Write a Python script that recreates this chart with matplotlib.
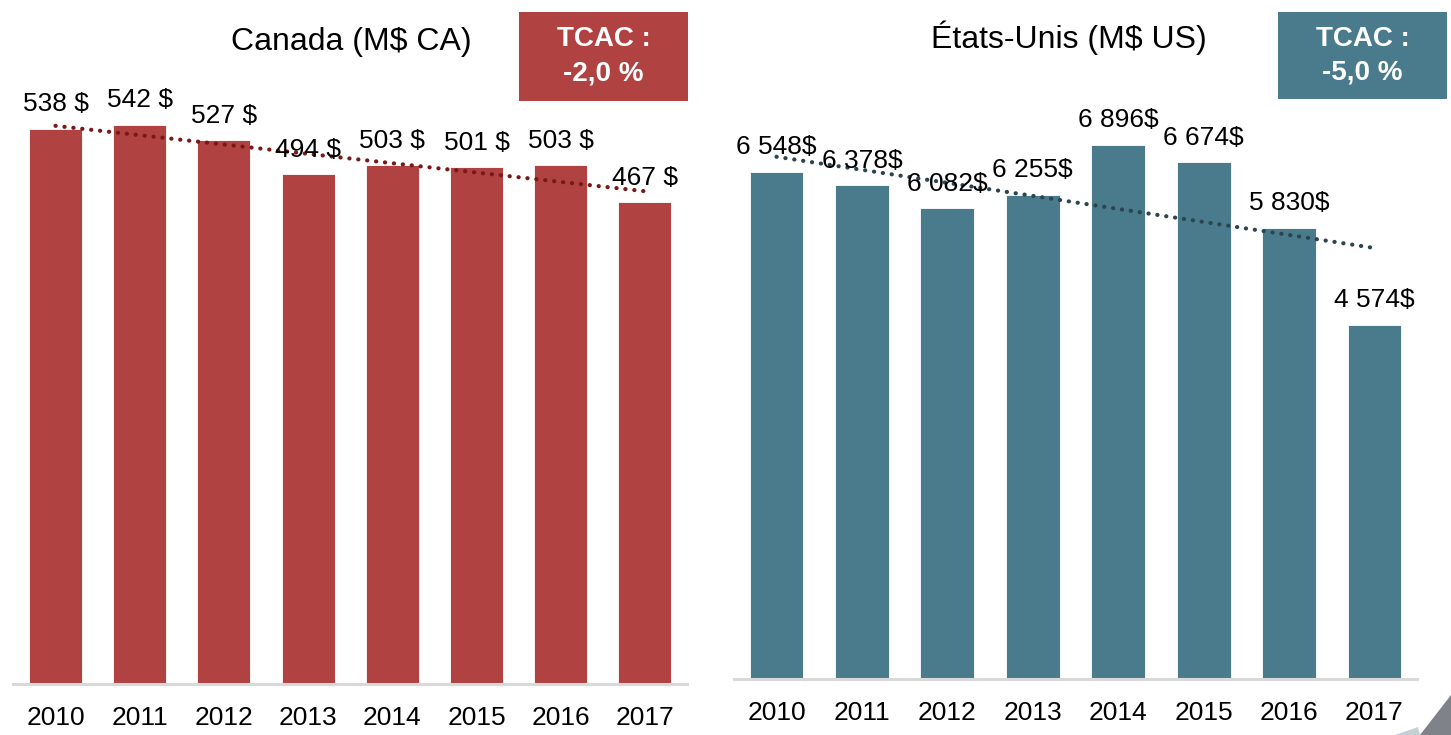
import matplotlib
matplotlib.use("Agg")
import matplotlib.pyplot as plt
import numpy as np
from matplotlib.patches import Rectangle, Polygon

YEARS = ["2010", "2011", "2012", "2013", "2014", "2015", "2016", "2017"]
CANADA = [538, 542, 527, 494, 503, 501, 503, 467]
US = [6548, 6378, 6082, 6255, 6896, 6674, 5830, 4574]
CANADA_LABELS = ["538 $", "542 $", "527 $", "494 $", "503 $", "501 $", "503 $", "467 $"]
US_LABELS = ["6 548$", "6 378$", "6 082$", "6 255$", "6 896$", "6 674$", "5 830$", "4 574$"]
CANADA_TCAC = "TCAC :\n-2,0 %"
US_TCAC = "TCAC :\n-5,0 %"

RED = "#B04242"
TEAL = "#4A7B8D"
RED_TREND = "#7A1818"
TEAL_TREND = "#2B4450"

plt.rcParams["font.family"] = ["Liberation Sans", "DejaVu Sans"]

W, H = 1451, 735
fig = plt.figure(figsize=(W / 100, H / 100), dpi=100)


def px_axes(x0, x1, y_base, height):
    return fig.add_axes([x0 / W, (H - y_base) / H, (x1 - x0) / W, height / H])


def draw_panel(ax, values, labels, color, trend_color, ymax):
    x = np.arange(len(values))
    ax.bar(x, values, width=0.63, color=color, edgecolor="white", linewidth=0.6)
    slope, intercept = np.polyfit(x, values, 1)
    ax.plot(x[[0, -1]], intercept + slope * x[[0, -1]], color=trend_color,
            linewidth=3.0, linestyle=(0, (0.05, 2.1)), dash_capstyle="round")
    for xi, v, lab in zip(x, values, labels):
        ax.annotate(lab, (xi, v), xytext=(0, 9), textcoords="offset points",
                    ha="center", va="bottom", fontsize=19, color="black")
    ax.set_xlim(-0.5, len(values) - 0.5)
    ax.set_ylim(0, ymax)
    ax.set_xticks(x)
    ax.set_xticklabels(YEARS, fontsize=19)
    ax.tick_params(axis="x", length=0, pad=16)
    ax.set_yticks([])
    for side in ["top", "left", "right"]:
        ax.spines[side].set_visible(False)
    ax.spines["bottom"].set_color("#D9D9D9")
    ax.spines["bottom"].set_linewidth(2.2)


ax1 = px_axes(13.4, 687.0, 684, 619)
draw_panel(ax1, CANADA, CANADA_LABELS, RED, RED_TREND, 619 / 1.0316)

ax2 = px_axes(733.8, 1417.2, 679, 619)
draw_panel(ax2, US, US_LABELS, TEAL, TEAL_TREND, 619 / 0.07744)

fig.text(351 / W, 1 - 42 / H, "Canada (M$ CA)", ha="center", va="center", fontsize=23)
fig.text(1069 / W, 1 - 38 / H, "États-Unis (M$ US)", ha="center", va="center", fontsize=23)


def tcac_box(x0, y0, x1, y1, color, text):
    fig.patches.append(Rectangle((x0 / W, 1 - y1 / H), (x1 - x0) / W, (y1 - y0) / H,
                                 transform=fig.transFigure, facecolor=color,
                                 edgecolor="none", zorder=0))
    fig.text((x0 + x1) / 2 / W, 1 - (y0 + y1) / 2 / H, text, ha="center", va="center",
             fontsize=20, fontweight="bold", color="white", linespacing=1.4)


tcac_box(519, 12, 688, 101, RED, CANADA_TCAC)
tcac_box(1278, 12, 1447, 99, TEAL, US_TCAC)

# corner decoration
fig.patches.append(Polygon([(1420 / W, 0), (1451 / W, 0), (1451 / W, 40 / H)],
                           closed=True, transform=fig.transFigure,
                           facecolor="#7F8288", edgecolor="none"))
fig.patches.append(Polygon([(1395 / W, 0), (1420 / W, 0), (1418 / W, 8 / H)],
                           closed=True, transform=fig.transFigure,
                           facecolor="#C3D0D6", edgecolor="none"))

fig.savefig("out.png", dpi=100)
